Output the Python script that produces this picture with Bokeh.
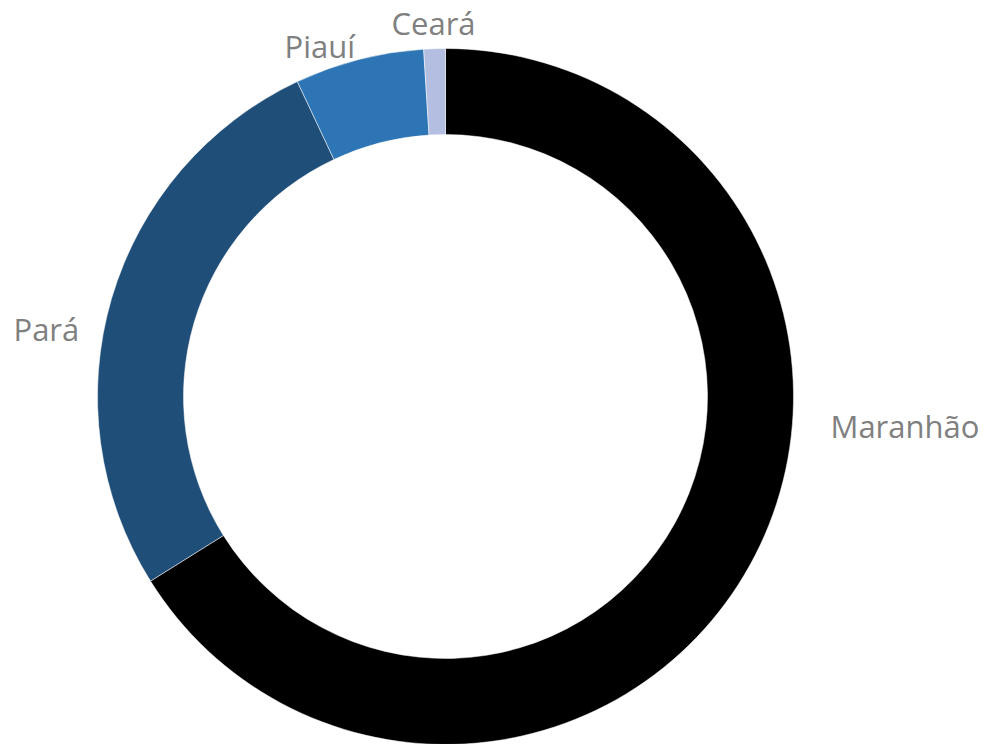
import numpy as np
from bokeh.plotting import figure
from bokeh.models import ColumnDataSource, Range1d
from bokeh.core.properties import value
from bokeh.embed import file_html
from bokeh.resources import INLINE

states = ["Maranhão", "Pará", "Piauí", "Ceará"]
shares = [66.1, 26.9, 6.0, 1.0]
colors = ["#000000", "#1F4E79", "#2E75B6", "#B4BEE0"]

# label layout (pixel left x, pixel middle y)
label_x = [830, 13, 284, 391]
label_y_px = [425, 328, 45, 22]

W, H = 994, 744
cx, cy = 445, H - 396
r_out, r_in = 348, 262

vals = np.array(shares, dtype=float)
frac = vals / vals.sum()
cum = np.concatenate([[0], np.cumsum(frac)])
start = np.pi / 2 - cum[:-1] * 2 * np.pi
end = np.pi / 2 - cum[1:] * 2 * np.pi

src = ColumnDataSource(dict(start=start, end=end, color=colors, state=states))

p = figure(width=W, height=H, output_backend="svg", toolbar_location=None,
           x_range=Range1d(0, W), y_range=Range1d(0, H), min_border=0)
p.axis.visible = False
p.grid.visible = False
p.outline_line_color = None
p.background_fill_color = "white"

p.annular_wedge(x=cx, y=cy, inner_radius=r_in, outer_radius=r_out,
                start_angle="start", end_angle="end", direction="clock",
                fill_color="color", line_color="white", line_width=0.5, source=src)

lsrc = ColumnDataSource(dict(x=label_x, y=[H - v for v in label_y_px], t=states))
p.text(x="x", y="y", text="t", source=lsrc, text_font=value("Open Sans"),
       text_font_size="31px", text_color="#808080", text_align="left",
       text_baseline="middle")

open("out.html", "w").write(file_html(p, INLINE))
